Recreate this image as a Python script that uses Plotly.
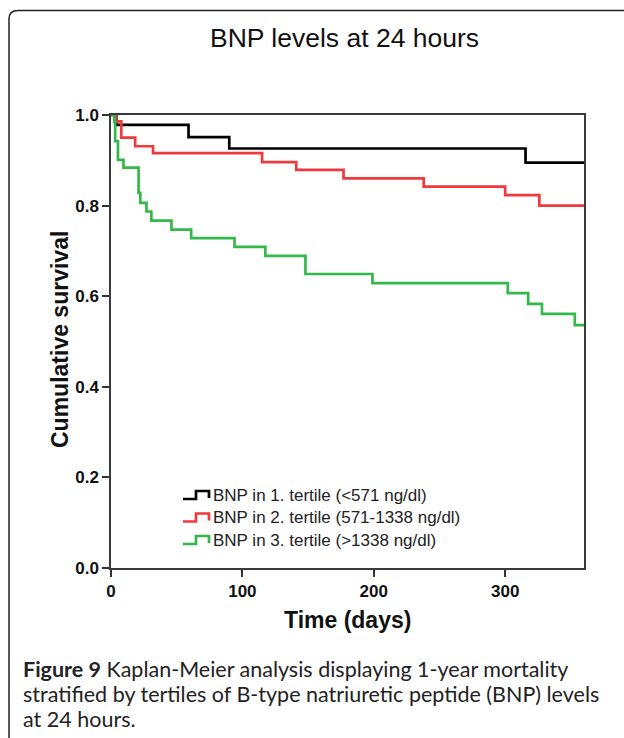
import plotly.graph_objects as go

# ---- data ----
t1_time = [0, 4, 59, 90, 315.5, 360]
t1_surv = [1.0, 0.978, 0.951, 0.926, 0.895, 0.895]

t2_time = [0, 3.5, 7.8, 18.4, 32, 115, 141, 177, 238, 300, 326, 360]
t2_surv = [1.0, 0.986, 0.950, 0.931, 0.916, 0.896, 0.879, 0.860, 0.842, 0.823, 0.800, 0.800]

t3_time = [0, 2.5, 3.2, 5.3, 9.5, 21, 22.3, 27, 30.7, 46, 61, 94, 117.5, 148, 199, 302, 317.5, 328, 353, 360]
t3_surv = [1.0, 0.985, 0.942, 0.901, 0.884, 0.828, 0.806, 0.787, 0.767, 0.747, 0.728, 0.709, 0.689, 0.649, 0.629, 0.607, 0.583, 0.561, 0.536, 0.536]

series_names = ["BNP in 1. tertile (<571 ng/dl)",
                "BNP in 2. tertile (571-1338 ng/dl)",
                "BNP in 3. tertile (>1338 ng/dl)"]
series_colors = ["#000000", "#ee3a3d", "#33b84a"]

x_ticks = [0, 100, 200, 300]
y_ticks = [0.0, 0.2, 0.4, 0.6, 0.8, 1.0]

title_text = "BNP levels at 24 hours"
x_title = "Time (days)"
y_title = "Cumulative survival"
caption_lines = [
    "<b>Figure 9</b> Kaplan-Meier analysis displaying 1-year mortality",
    "stratified by tertiles of B-type natriuretic peptide (BNP) levels",
    "at 24 hours.",
]

# ---- layout geometry ----
W, H = 624, 738
L, R, T, B = 111, 40, 115, 170
PW, PH = W - L - R, H - T - B


def px(x):
    return (x - L) / PW


def py(y):
    return (H - B - y) / PH


ARIAL = "Liberation Sans, Arial, sans-serif"

fig = go.Figure()
for tt, ss, nm, col in zip([t1_time, t2_time, t3_time],
                           [t1_surv, t2_surv, t3_surv],
                           series_names, series_colors):
    fig.add_trace(go.Scatter(x=tt, y=ss, mode="lines", name=nm,
                             line=dict(color=col, width=2.7, shape="hv"),
                             showlegend=False))

shapes = []
annotations = []

# outer rounded border (partial, like a figure panel)
border = (f"M {px(9)},{py(738)} L {px(9)},{py(19)} "
          f"Q {px(9)},{py(10.5)} {px(18)},{py(10.5)} L {px(626)},{py(10.5)}")
shapes.append(dict(type="path", xref="paper", yref="paper", path=border,
                   line=dict(color="#222222", width=1.5)))

# custom legend with step symbols
leg_rows = [495, 517.5, 540]
for yy, nm, col in zip(leg_rows, series_names, series_colors):
    p = (f"M {px(183)},{py(yy + 4)} L {px(196)},{py(yy + 4)} L {px(196)},{py(yy - 4)} "
         f"L {px(209)},{py(yy - 4)} L {px(209)},{py(yy + 3)}")
    shapes.append(dict(type="path", xref="paper", yref="paper", path=p,
                       line=dict(color=col, width=2.7)))
    annotations.append(dict(xref="paper", yref="paper", x=px(211), y=py(yy),
                            xanchor="left", yanchor="middle", showarrow=False,
                            text=nm, font=dict(family=ARIAL, size=17, color="#222222")))

# title
annotations.append(dict(xref="paper", yref="paper", x=px(344), y=py(38),
                        xanchor="center", yanchor="middle", showarrow=False,
                        text=title_text, font=dict(family=ARIAL, size=26.5, color="#111111")))

# axis titles
annotations.append(dict(xref="paper", yref="paper", x=px(60), y=py(340),
                        xanchor="center", yanchor="middle", showarrow=False,
                        textangle=-90, text=f"<b>{y_title}</b>",
                        font=dict(family=ARIAL, size=23, color="#111111")))
annotations.append(dict(xref="paper", yref="paper", x=px(347), y=py(620),
                        xanchor="center", yanchor="middle", showarrow=False,
                        text=f"<b>{x_title}</b>",
                        font=dict(family=ARIAL, size=23, color="#111111")))

# caption, one text per line at the reference's line pitch
for i, line in enumerate(caption_lines):
    annotations.append(dict(xref="paper", yref="paper", x=px(21), y=py(668 + 25 * i),
                            xanchor="left", yanchor="middle", align="left",
                            showarrow=False, height=25, valign="middle",
                            text=line,
                            font=dict(family="Lato, Noto Sans, sans-serif", size=21.5,
                                      color="#222222")))

fig.update_layout(
    width=W, height=H,
    margin=dict(l=L, r=R, t=T, b=B, pad=0),
    paper_bgcolor="white", plot_bgcolor="white",
    shapes=shapes, annotations=annotations,
    xaxis=dict(range=[0, 360], tickvals=x_ticks, ticks="outside", ticklen=7,
               tickwidth=1.5, tickcolor="#333333",
               showline=True, linecolor="#3a3a3a", linewidth=1.5, mirror=True,
               showgrid=False, zeroline=False,
               tickfont=dict(family=ARIAL, size=17, color="#111111", weight="bold")),
    yaxis=dict(range=[0, 1.0], tickvals=y_ticks, tickformat=".1f", ticks="outside",
               ticklen=7, tickwidth=1.5, tickcolor="#333333",
               showline=True, linecolor="#3a3a3a", linewidth=1.5, mirror=True,
               showgrid=False, zeroline=False,
               tickfont=dict(family=ARIAL, size=17, color="#111111", weight="bold")),
)

fig.write_html("out.html")
